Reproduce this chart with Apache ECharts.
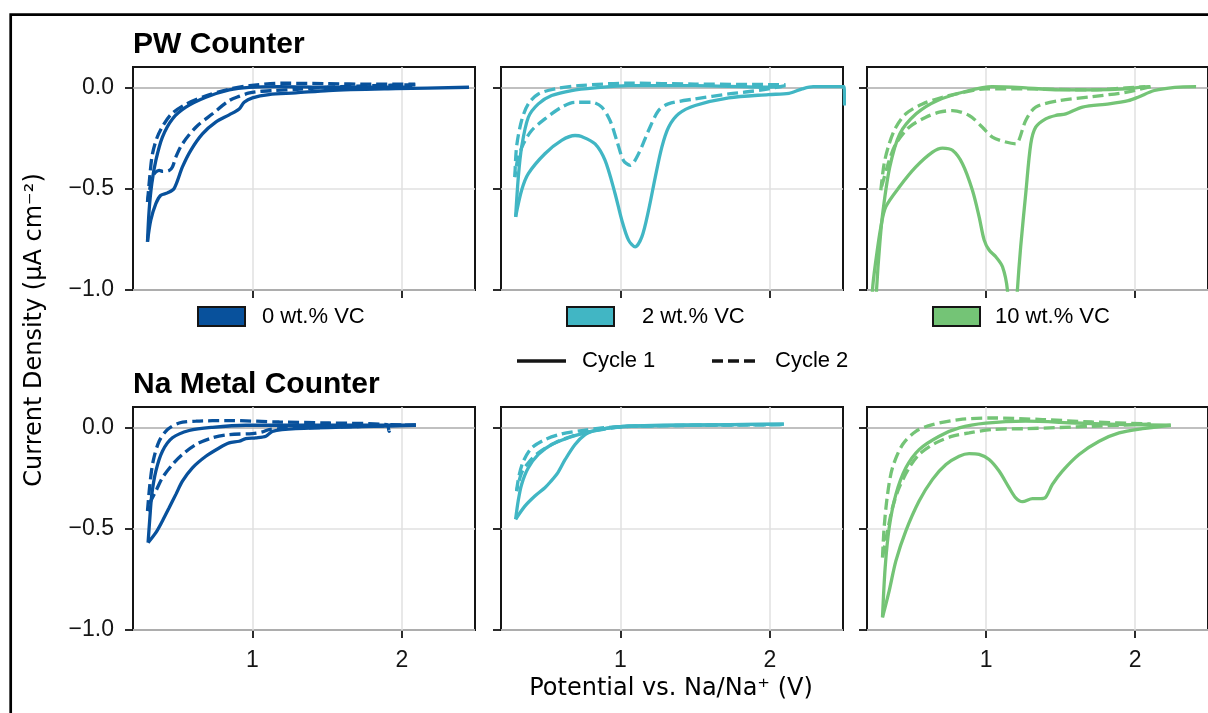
<!DOCTYPE html>
<html><head><meta charset="utf-8">
<script src="https://cdn.jsdelivr.net/npm/echarts@6/dist/echarts.min.js"></script>
<style>html,body{margin:0;padding:0;background:#fff}#chart{width:1208px;height:713px}</style>
</head><body><div id="chart"></div>
<script>
// ---------------- data ----------------
const rowTitles = ['PW Counter', 'Na Metal Counter'];
const vcLabels = ['0 wt.% VC', '2 wt.% VC', '10 wt.% VC'];
const cycleLabels = ['Cycle 1', 'Cycle 2'];
const xTicks = [1, 2];
const yTicks = [-1.0, -0.5, 0.0];
const xLabel = 'Potential vs. Na/Na\u207A (V)';
const yLabel = 'Current Density (\u00B5A cm\u207B\u00B2)';

// PW counter, 0 wt.% VC
const pw0_c1_down = [[2.45,0.0],[1.96,-0.007],[1.51,-0.016],[1.29,-0.028],[1.11,-0.036],[1.0,-0.052],[0.944,-0.074],[0.911,-0.107],[0.844,-0.136],[0.754,-0.172],[0.665,-0.23],[0.587,-0.311],[0.531,-0.393],[0.475,-0.5],[0.431,-0.521],[0.386,-0.533],[0.353,-0.574],[0.319,-0.656],[0.297,-0.762]];
const pw0_c1_up = [[0.297,-0.762],[0.308,-0.607],[0.326,-0.475],[0.353,-0.361],[0.397,-0.246],[0.464,-0.156],[0.554,-0.098],[0.688,-0.049],[0.844,-0.013],[0.978,0.0],[1.18,0.003],[1.51,0.0],[2.07,0.0]];
const pw0_c2_down = [[2.09,0.012],[1.8,0.008],[1.5,0.0],[1.3,-0.01],[1.15,-0.016],[1.05,-0.02],[0.98,-0.028],[0.91,-0.045],[0.844,-0.066],[0.732,-0.131],[0.621,-0.197],[0.531,-0.279],[0.487,-0.344],[0.464,-0.393],[0.442,-0.41],[0.40,-0.415],[0.375,-0.41],[0.35,-0.42],[0.33,-0.445],[0.31,-0.51],[0.297,-0.566]];
const pw0_c2_up = [[0.297,-0.566],[0.315,-0.42],[0.33,-0.33],[0.36,-0.25],[0.40,-0.19],[0.46,-0.13],[0.55,-0.085],[0.68,-0.045],[0.84,-0.01],[0.98,0.008],[1.2,0.02],[1.5,0.018],[1.8,0.015],[2.09,0.015]];

// PW counter, 2 wt.% VC
const pw2_c1_down = [[2.5,-0.09],[2.497,0.003],[2.29,0.003],[2.217,-0.008],[2.128,-0.03],[1.99,-0.036],[1.725,-0.052],[1.50,-0.09],[1.39,-0.131],[1.322,-0.197],[1.277,-0.295],[1.233,-0.443],[1.188,-0.607],[1.143,-0.738],[1.098,-0.787],[1.054,-0.754],[1.009,-0.656],[0.964,-0.525],[0.897,-0.361],[0.83,-0.279],[0.74,-0.243],[0.696,-0.238],[0.606,-0.262],[0.494,-0.328],[0.383,-0.426],[0.338,-0.508],[0.298,-0.639]];
const pw2_c1_up = [[0.298,-0.639],[0.316,-0.443],[0.338,-0.295],[0.383,-0.148],[0.45,-0.082],[0.539,-0.041],[0.673,-0.016],[0.83,-0.003],[1.054,0.008],[1.5,0.008],[1.95,0.0],[2.08,0.003]];
const pw2_c2_down = [[2.105,0.008],[1.95,-0.013],[1.725,-0.033],[1.50,-0.057],[1.32,-0.082],[1.255,-0.115],[1.188,-0.213],[1.121,-0.328],[1.065,-0.385],[1.02,-0.361],[0.975,-0.262],[0.93,-0.164],[0.875,-0.098],[0.808,-0.074],[0.696,-0.074],[0.606,-0.098],[0.494,-0.156],[0.405,-0.213],[0.35,-0.279],[0.31,-0.361],[0.293,-0.443]];
const pw2_c2_up = [[0.293,-0.443],[0.304,-0.295],[0.338,-0.164],[0.383,-0.082],[0.45,-0.033],[0.562,-0.008],[0.718,0.008],[1.054,0.02],[1.5,0.016],[2.105,0.013]];

// PW counter, 10 wt.% VC
const pw10_c1_down = [[2.41,0.003],[2.267,0.0],[2.13,-0.016],[2.02,-0.049],[1.955,-0.066],[1.826,-0.082],[1.647,-0.098],[1.535,-0.131],[1.468,-0.139],[1.4,-0.156],[1.333,-0.197],[1.30,-0.279],[1.266,-0.525],[1.232,-0.787],[1.21,-1.0],[1.19,-1.25],[1.16,-1.25],[1.143,-1.0],[1.11,-0.885],[1.065,-0.836],[1.02,-0.803],[0.987,-0.754],[0.953,-0.639],[0.908,-0.508],[0.841,-0.377],[0.774,-0.311],[0.707,-0.3],[0.64,-0.32],[0.528,-0.393],[0.417,-0.492],[0.326,-0.59],[0.293,-0.689],[0.26,-0.852],[0.237,-1.0],[0.225,-1.3]];
const pw10_c1_up = [[0.245,-1.3],[0.264,-1.0],[0.286,-0.77],[0.308,-0.607],[0.353,-0.393],[0.42,-0.23],[0.53,-0.131],[0.67,-0.066],[0.886,-0.016],[1.04,0.003],[1.266,-0.003],[1.49,-0.013],[1.714,-0.013],[1.937,-0.008],[2.07,0.003]];
const pw10_c2_down = [[2.105,0.003],[1.937,-0.025],[1.714,-0.046],[1.49,-0.066],[1.333,-0.098],[1.266,-0.164],[1.22,-0.262],[1.2,-0.279],[1.132,-0.27],[1.042,-0.246],[0.975,-0.197],[0.886,-0.139],[0.774,-0.115],[0.685,-0.123],[0.595,-0.148],[0.483,-0.197],[0.394,-0.279],[0.349,-0.361],[0.304,-0.475],[0.293,-0.508]];
const pw10_c2_up = [[0.293,-0.508],[0.315,-0.377],[0.349,-0.279],[0.394,-0.197],[0.461,-0.131],[0.573,-0.082],[0.707,-0.049],[0.819,-0.03],[0.998,-0.008],[1.266,-0.008],[1.714,-0.013],[1.937,-0.003],[2.105,0.003]];

// Na metal counter, 0 wt.% VC
const na0_c1_down = [[2.094,0.01],[1.737,0.003],[1.29,-0.007],[1.134,-0.02],[1.09,-0.044],[1.022,-0.052],[0.955,-0.056],[0.911,-0.069],[0.844,-0.077],[0.777,-0.102],[0.688,-0.143],[0.598,-0.2],[0.531,-0.266],[0.487,-0.331],[0.442,-0.397],[0.397,-0.462],[0.353,-0.52],[0.301,-0.569]];
const na0_c1_up = [[0.301,-0.569],[0.313,-0.446],[0.326,-0.331],[0.353,-0.216],[0.397,-0.118],[0.464,-0.052],[0.576,-0.016],[0.732,0.0],[0.955,0.01],[1.29,0.01],[1.737,0.01],[2.094,0.01]];
const na0_c2_down = [[2.094,0.012],[1.513,0.0],[1.18,-0.007],[1.112,-0.011],[1.067,-0.023],[1.0,-0.031],[0.844,-0.036],[0.732,-0.052],[0.621,-0.085],[0.531,-0.134],[0.464,-0.184],[0.397,-0.249],[0.353,-0.315],[0.319,-0.364],[0.297,-0.413]];
const na0_c2_up = [[0.297,-0.413],[0.313,-0.282],[0.335,-0.167],[0.375,-0.069],[0.431,-0.011],[0.509,0.021],[0.621,0.03],[0.844,0.033],[1.18,0.026],[1.513,0.021],[1.90,0.013],[1.915,-0.02],[1.93,0.013],[2.0,0.012]];

// Na metal counter, 2 wt.% VC
const na2_c1_down = [[2.094,0.016],[1.725,0.013],[1.277,0.01],[1.054,0.005],[0.92,-0.003],[0.83,-0.016],[0.763,-0.036],[0.696,-0.085],[0.629,-0.16],[0.58,-0.225],[0.53,-0.27],[0.494,-0.298],[0.427,-0.339],[0.36,-0.389],[0.298,-0.454]];
const na2_c1_up = [[0.298,-0.454],[0.315,-0.364],[0.338,-0.282],[0.383,-0.2],[0.45,-0.134],[0.539,-0.085],[0.651,-0.052],[0.763,-0.028],[0.897,-0.007],[1.054,0.005],[1.5,0.01],[2.094,0.016]];
const na2_c2_down = [[2.08,0.013],[1.277,0.008],[1.009,0.002],[0.875,-0.011],[0.785,-0.023],[0.673,-0.044],[0.562,-0.077],[0.45,-0.126],[0.383,-0.175],[0.338,-0.225],[0.304,-0.315]];
const na2_c2_up = [[0.304,-0.315],[0.32,-0.241],[0.35,-0.167],[0.405,-0.102],[0.494,-0.061],[0.606,-0.033],[0.74,-0.016],[0.875,-0.003],[1.054,0.005],[2.08,0.013]];

// Na metal counter, 10 wt.% VC
const na10_c1_down = [[2.24,0.01],[2.05,-0.007],[1.893,-0.028],[1.759,-0.069],[1.624,-0.134],[1.512,-0.216],[1.445,-0.282],[1.4,-0.345],[1.367,-0.352],[1.311,-0.352],[1.244,-0.367],[1.199,-0.348],[1.154,-0.298],[1.087,-0.216],[1.02,-0.159],[0.953,-0.134],[0.886,-0.13],[0.819,-0.143],[0.73,-0.184],[0.64,-0.257],[0.55,-0.364],[0.461,-0.511],[0.394,-0.659],[0.349,-0.807],[0.304,-0.938]];
const na10_c1_up = [[0.304,-0.938],[0.322,-0.692],[0.349,-0.495],[0.394,-0.331],[0.461,-0.2],[0.55,-0.11],[0.685,-0.044],[0.819,-0.003],[0.998,0.02],[1.266,0.03],[1.602,0.021],[1.937,0.013],[2.24,0.01]];
const na10_c2_down = [[2.105,0.016],[1.714,0.005],[1.266,-0.007],[1.04,-0.011],[0.886,-0.028],[0.774,-0.044],[0.662,-0.077],[0.55,-0.134],[0.483,-0.2],[0.416,-0.298],[0.371,-0.397],[0.338,-0.511],[0.304,-0.643]];
const na10_c2_up = [[0.304,-0.643],[0.315,-0.495],[0.338,-0.331],[0.371,-0.2],[0.439,-0.085],[0.528,-0.02],[0.64,0.013],[0.819,0.038],[1.04,0.046],[1.378,0.038],[1.714,0.026],[2.105,0.016]];

const colors = ['#08519c', '#41b6c4', '#74c476'];

// ---------------- layout ----------------
const gridLefts = [133, 501, 867];
const gridTops = [67, 407];
const gridW = 342, gridH = 223;
const X_MIN = 0.2, X_MAX = 2.49, Y_MIN = -1.0, Y_MAX = 0.1;
const INK = '#151515';
const TICK_FONT = 'Liberation Sans, Arial, Helvetica, sans-serif';
const LABEL_FONT = 'DejaVu Sans, sans-serif';
const LW = 3.3;

const panels = [
  {row:0, col:0, c1:[pw0_c1_down, pw0_c1_up], c2:[pw0_c2_down, pw0_c2_up]},
  {row:0, col:1, c1:[pw2_c1_down, pw2_c1_up], c2:[pw2_c2_down, pw2_c2_up]},
  {row:0, col:2, c1:[pw10_c1_down, pw10_c1_up], c2:[pw10_c2_down, pw10_c2_up]},
  {row:1, col:0, c1:[na0_c1_down, na0_c1_up], c2:[na0_c2_down, na0_c2_up]},
  {row:1, col:1, c1:[na2_c1_down, na2_c1_up], c2:[na2_c2_down, na2_c2_up]},
  {row:1, col:2, c1:[na10_c1_down, na10_c1_up], c2:[na10_c2_down, na10_c2_up]}
];

const grid = [], xAxis = [], yAxis = [], series = [];
const fmtY = v => (Math.abs(v) < 1e-9 ? '0.0' : v.toFixed(1).replace('-', '\u2212'));

panels.forEach((p, i) => {
  grid.push({left: gridLefts[p.col], top: gridTops[p.row], width: gridW, height: gridH,
    show: true, borderColor: INK, borderWidth: 2, backgroundColor: 'transparent', containLabel: false});
  xAxis.push({
    gridIndex: i, type: 'value', min: X_MIN, max: X_MAX,
    axisLine: {show: true, onZero: false, lineStyle: {color: INK, width: 2}},
    axisTick: {show: true, inside: false, length: 8, lineStyle: {color: INK, width: 1.8}, customValues: xTicks},
    axisLabel: {show: p.row === 1, customValues: xTicks, margin: 19, color: INK, fontSize: 23,
      fontFamily: TICK_FONT, formatter: v => String(v)},
    splitLine: {show: false}
  });
  yAxis.push({
    gridIndex: i, type: 'value', min: Y_MIN, max: Y_MAX,
    axisLine: {show: true, onZero: false, lineStyle: {color: INK, width: 2}},
    axisTick: {show: true, inside: false, length: 8, lineStyle: {color: INK, width: 1.8}, customValues: yTicks},
    axisLabel: {show: p.col === 0, customValues: yTicks, margin: 19, color: INK, fontSize: 23,
      fontFamily: TICK_FONT, formatter: fmtY},
    splitLine: {show: false}
  });
  const gridLineData = [];
  xTicks.forEach(t => gridLineData.push({xAxis: t, lineStyle: {color: '#e1e1e1', width: 1.5, type: 'solid'}}));
  yTicks.forEach(t => gridLineData.push({yAxis: t, lineStyle: t === 0 ? {color: '#ababab', width: 1.6, type: 'solid'} : {color: '#e1e1e1', width: 1.5, type: 'solid'}}));

  const color = colors[p.col];
  const mk = (data, dashed, withGrid) => {
    const s = {
      type: 'line', xAxisIndex: i, yAxisIndex: i, data: data,
      showSymbol: false, symbol: 'none', smooth: 0.3, clip: true, silent: true, animation: false,
      z: dashed ? 3 : 2,
      lineStyle: {color: color, width: LW, type: dashed ? [11, 5] : 'solid', cap: 'butt'},
      itemStyle: {color: color}
    };
    if (withGrid) {
      s.markLine = {silent: true, symbol: 'none', z: 1, animation: false,
        label: {show: false}, emphasis: {disabled: true}, data: gridLineData};
    }
    return s;
  };
  series.push(mk(p.c1[0], false, true), mk(p.c1[1], false, false), mk(p.c2[0], true, false), mk(p.c2[1], true, false));
});

// ---------------- annotations ----------------
const graphic = [];
graphic.push({type: 'rect', shape: {x: 10.7, y: 14.7, width: 1400, height: 900},
  style: {fill: 'none', stroke: '#000', lineWidth: 2.7}, silent: true});
rowTitles.forEach((t, r) => {
  graphic.push({type: 'text', x: 133, y: 44.5 + r * 340, silent: true,
    style: {text: t, fontSize: 30, fontWeight: 'bold', fontFamily: TICK_FONT, fill: '#000', align: 'left', verticalAlign: 'middle'}});
});
const vcBoxX = [198, 567, 933];
const vcTextX = [262, 642, 995];
vcLabels.forEach((t, k) => {
  graphic.push({type: 'rect', shape: {x: vcBoxX[k], y: 307, width: 47, height: 19}, silent: true,
    style: {fill: colors[k], stroke: INK, lineWidth: 2}});
  graphic.push({type: 'text', x: vcTextX[k], y: 317, silent: true,
    style: {text: t, fontSize: 22, fontFamily: TICK_FONT, fill: '#000', align: 'left', verticalAlign: 'middle'}});
});
const cycLineX = [[517, 566], [712, 759]];
const cycTextX = [582, 775];
cycleLabels.forEach((t, k) => {
  graphic.push({type: 'line', shape: {x1: cycLineX[k][0], y1: 361, x2: cycLineX[k][1], y2: 361}, silent: true,
    style: {stroke: INK, lineWidth: LW, lineDash: k === 1 ? [11, 5] : null}});
  graphic.push({type: 'text', x: cycTextX[k], y: 361, silent: true,
    style: {text: t, fontSize: 22, fontFamily: TICK_FONT, fill: '#000', align: 'left', verticalAlign: 'middle'}});
});
graphic.push({type: 'text', x: 671, y: 689, silent: true,
  style: {text: xLabel, fontSize: 24, fontFamily: LABEL_FONT, fill: '#000', align: 'center', verticalAlign: 'middle'}});
graphic.push({type: 'text', x: 35, y: 330, rotation: Math.PI / 2, silent: true,
  style: {text: yLabel, fontSize: 24, fontFamily: LABEL_FONT, fill: '#000', align: 'center', verticalAlign: 'middle'}});

const chart = echarts.init(document.getElementById('chart'), null, {renderer: 'canvas', width: 1208, height: 713});
chart.setOption({
  backgroundColor: '#ffffff',
  animation: false,
  grid: grid, xAxis: xAxis, yAxis: yAxis, series: series, graphic: graphic
});
</script>
</body></html>
